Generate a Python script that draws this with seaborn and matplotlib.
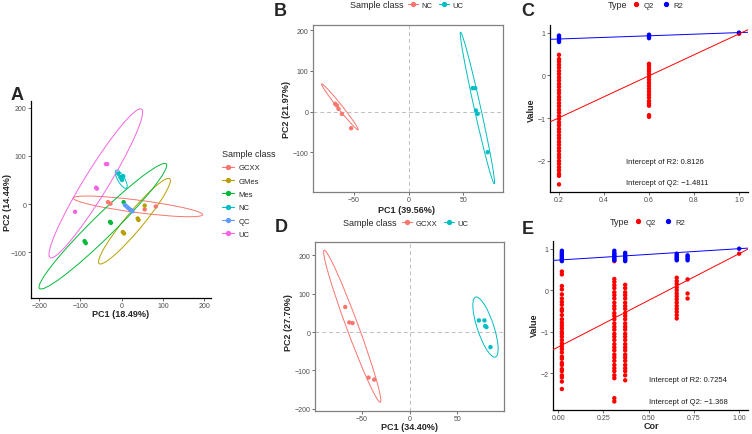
import pandas as pd
import seaborn as sns
import matplotlib.pyplot as plt
from matplotlib.patches import Ellipse
from matplotlib.lines import Line2D

# ============================================
# PCA + permutation test figure (panels A-E)
# ============================================

sns.set_style("white")
plt.rcParams["font.family"] = ["Liberation Sans", "DejaVu Sans"]

W, H = 752, 435

# --- Panel A: PCA, all classes
a_classes = ["GCXX", "GMes", "Mes", "NC", "QC", "UC"]
a_colors = ["#F8766D", "#B79F00", "#00BA38", "#00BFC4", "#619CFF", "#F564E3"]
a_class = ["GCXX"] * 4 + ["GMes"] * 5 + ["Mes"] * 5 + ["NC"] * 5 + ["QC"] * 6 + ["UC"] * 5
a_pc1 = [-33, -27, 56, 83,
         56, 39, 41, 3, 6,
         5, -28, -26, -90, -87,
         -8, -3, 0, 4, 1,
         8, 12, 16, 20, 24, 26,
         -38, -35, -62, -60, -113]
a_pc2 = [4, 1, -11, -5,
         -3, -30, -33, -58, -61,
         4, -37, -39, -77, -81,
         63, 56, 52, 58, 50,
         -2, -5, -8, -11, -13, -15,
         83, 83, 34, 32, -16]
# ellipses: center, semi axes, angle (data units)
a_ell_cx = [39.7, 31.2, -45.5, -1, 17, -62.7]
a_ell_cy = [-4.8, -35.5, -46, 51.5, -8.5, 43]
a_ell_a = [158, 123, 201, 22.6, 13, 190]
a_ell_b = [13, 20, 25, 8, 2.5, 28]
a_ell_ang = [-6.25, 45.6, 39.9, -54.9, -35, 54.1]

# --- Panel B: NC vs UC
b_classes = ["NC", "UC"]
b_class = ["NC"] * 5 + ["UC"] * 5
b_pc1 = [-66.8, -65.3, -63.8, -60.7, -52.3, 58.3, 60.7, 61.4, 62.9, 72.0]
b_pc2 = [19, 15, 6.6, -5.7, -41, 57.6, 57.6, 2.5, -5.7, -100]
b_ell_cx = [-62.5, 62.7]
b_ell_cy = [11.5, 9]
b_ell_a = [58.9, 187.2]
b_ell_b = [2.5, 3]
b_ell_ang = [-73.7, 94.7]

# --- Panel D: GCXX vs UC
d_classes = ["GCXX", "UC"]
d_class = ["GCXX"] * 5 + ["UC"] * 5
d_pc1 = [-67.3, -63.1, -59.7, -42.9, -37.0, 72.7, 78.5, 79.3, 80.6, 84.8]
d_pc2 = [65.4, 25.1, 23.5, -118.8, -124, 30.4, 30.4, 15.7, 13, -39.3]
d_ell_cx = [-60, 79.6]
d_ell_cy = [15.3, 13]
d_ell_a = [200.5, 79.1]
d_ell_b = [6.5, 9]
d_ell_ang = [-81.6, 97.1]

# --- Panel C: permutation test (NC vs UC)
c_cor = [0.2, 0.6, 1.0]
c_q2 = [[0.48, 0.38, 0.32, 0.25, 0.18, 0.1, 0.03, -0.05, -0.12, -0.2, -0.27, -0.35,
         -0.42, -0.5, -0.57, -0.65, -0.72, -0.8, -0.87, -0.95, -1.02, -1.1, -1.17,
         -1.25, -1.32, -1.4, -1.47, -1.55, -1.62, -1.7, -1.77, -1.85, -1.92, -2.0,
         -2.07, -2.15, -2.22, -2.3, -2.35, -2.55],
        [0.27, 0.22, 0.16, 0.1, 0.04, -0.03, -0.1, -0.17, -0.24, -0.31, -0.38, -0.45,
         -0.52, -0.6, -0.66, -0.71, -0.93, -0.97],
        [0.97]]
c_r2 = [[0.78, 0.81, 0.84, 0.87, 0.9, 0.93],
        [0.87, 0.9, 0.93, 0.95],
        [1.0]]
c_r2_int, c_q2_int = 0.8126, -1.4811

# --- Panel E: permutation test (GCXX vs UC)
e_cor = [0.02, 0.31, 0.37, 0.655, 0.715, 1.0]
e_q2 = [[0.45, 0.38, 0.1, 0.02, -0.1, -0.2, -0.28, -0.35, -0.45, -0.5, -0.6, -0.7,
         -0.78, -0.85, -0.92, -1.0, -1.05, -1.12, -1.2, -1.28, -1.35, -1.42, -1.5,
         -1.6, -1.65, -1.75, -1.8, -1.9, -1.95, -2.05, -2.1, -2.2, -2.38],
        [0.7, 0.27, 0.2, 0.12, 0.05, -0.05, -0.12, -0.2, -0.3, -0.38, -0.45, -0.55,
         -0.62, -0.7, -0.8, -0.88, -0.95, -1.05, -1.12, -1.2, -1.3, -1.38, -1.45,
         -1.55, -1.62, -1.7, -1.8, -1.88, -1.95, -2.05, -2.12, -2.6, -2.68],
        [0.13, 0.05, -0.05, -0.12, -0.2, -0.3, -0.38, -0.45, -0.55, -0.62, -0.7, -0.8,
         -0.88, -0.95, -1.05, -1.12, -1.2, -1.3, -1.38, -1.45, -1.55, -1.62, -1.7,
         -1.8, -1.88, -1.95, -2.05, -2.17],
        [0.3, 0.22, 0.15, 0.07, 0.0, -0.08, -0.15, -0.22, -0.3, -0.38, -0.45, -0.52,
         -0.6, -0.68],
        [0.26, -0.08, -0.2],
        [0.88]]
e_r2 = [[0.7, 0.73, 0.76, 0.79, 0.82, 0.85, 0.88, 0.91, 0.95],
        [0.72, 0.75, 0.78, 0.81, 0.84, 0.87, 0.9, 0.95],
        [0.7, 0.73, 0.76, 0.79, 0.82, 0.86, 0.9],
        [0.72, 0.75, 0.78, 0.81, 0.84, 0.88],
        [0.72, 0.76, 0.8, 0.84],
        [1.0]]
e_r2_int, e_q2_int = 0.7254, -1.368

TICK_COL = "#4D4D4D"


def fx(x):
    return x / W


def fy(y):
    return 1 - y / H


def make_ax(left, top, right, bottom):
    return fig.add_axes([fx(left), fy(bottom), (right - left) / W, (bottom - top) / H])


def style_ax(ax, box=False):
    for s in ["left", "bottom", "top", "right"]:
        ax.spines[s].set_visible(box or s in ("left", "bottom"))
        ax.spines[s].set_color("#808080" if box else "black")
        ax.spines[s].set_linewidth(0.9)
    ax.tick_params(axis="both", direction="out", length=2, width=0.5, color="#333333",
                   labelsize=5, labelcolor=TICK_COL, pad=1.2, bottom=True, left=True)
    ax.set_xlabel("")
    ax.set_ylabel("")


def pca_panel(ax, df, classes, colors, cx, cy, ea, eb, eang):
    pal = dict(zip(classes, colors))
    sns.scatterplot(data=df, x="pc1", y="pc2", hue="cls", palette=pal, s=10,
                    linewidth=0, legend=False, ax=ax, zorder=3)
    for i, c in enumerate(classes):
        ax.add_patch(Ellipse((cx[i], cy[i]), 2 * ea[i], 2 * eb[i], angle=eang[i],
                             fill=False, edgecolor=pal[c], lw=0.7, zorder=2))


def perm_df(cor, q2, r2):
    rows = []
    for x, vals in zip(cor, q2):
        rows += [(x, v, "Q2") for v in vals]
    for x, vals in zip(cor, r2):
        rows += [(x, v, "R2") for v in vals]
    return pd.DataFrame(rows, columns=["cor", "value", "type"])


def perm_panel(ax, df, r2_int, q2_int, r2_end, q2_end):
    sns.scatterplot(data=df, x="cor", y="value", hue="type",
                    palette={"Q2": "red", "R2": "blue"}, s=10, linewidth=0,
                    legend=False, ax=ax, zorder=3)
    ax.axline((0, r2_int), (1, r2_end), color="blue", lw=0.7, zorder=4)
    ax.axline((0, q2_int), (1, q2_end), color="red", lw=0.7, zorder=4)


fig = plt.figure(figsize=(W / 100, H / 100), dpi=100)

# ---------------- A
ax_a = make_ax(31, 102, 211, 299)
df_a = pd.DataFrame({"pc1": a_pc1, "pc2": a_pc2, "cls": a_class})
pca_panel(ax_a, df_a, a_classes, a_colors, a_ell_cx, a_ell_cy, a_ell_a, a_ell_b, a_ell_ang)
ax_a.set_xlim(-220, 217)
ax_a.set_ylim(-195, 214)
ax_a.set_xticks([-200, -100, 0, 100, 200])
ax_a.set_yticks([-100, 0, 100, 200])
style_ax(ax_a)

# ---------------- B
ax_b = make_ax(313, 26, 503, 193)
df_b = pd.DataFrame({"pc1": b_pc1, "pc2": b_pc2, "cls": b_class})
ax_b.axhline(0, color="#BEBEBE", lw=0.7, ls=(0, (4, 3)), zorder=1)
ax_b.axvline(0, color="#BEBEBE", lw=0.7, ls=(0, (4, 3)), zorder=1)
pca_panel(ax_b, df_b, b_classes, [a_colors[0], a_colors[3]],
          b_ell_cx, b_ell_cy, b_ell_a, b_ell_b, b_ell_ang)
ax_b.set_xlim(-87, 86)
ax_b.set_ylim(-198, 213)
ax_b.set_xticks([-50, 0, 50])
ax_b.set_yticks([-100, 0, 100, 200])
style_ax(ax_b, box=True)

# ---------------- D
ax_d = make_ax(315, 243, 504, 412)
df_d = pd.DataFrame({"pc1": d_pc1, "pc2": d_pc2, "cls": d_class})
ax_d.axhline(0, color="#BEBEBE", lw=0.7, ls=(0, (4, 3)), zorder=1)
ax_d.axvline(0, color="#BEBEBE", lw=0.7, ls=(0, (4, 3)), zorder=1)
pca_panel(ax_d, df_d, d_classes, [a_colors[0], a_colors[3]],
          d_ell_cx, d_ell_cy, d_ell_a, d_ell_b, d_ell_ang)
ax_d.set_xlim(-99, 99)
ax_d.set_ylim(-206, 235)
ax_d.set_xticks([-50, 0, 50])
ax_d.set_yticks([-200, -100, 0, 100, 200])
style_ax(ax_d, box=True)

# ---------------- C
ax_c = make_ax(550, 26, 748, 193)
perm_panel(ax_c, perm_df(c_cor, c_q2, c_r2), c_r2_int, c_q2_int, c_r2[-1][0], c_q2[-1][0])
ax_c.set_xlim(0.16, 1.04)
ax_c.set_ylim(-2.7275, 1.1775)
ax_c.set_xticks([0.2, 0.4, 0.6, 0.8, 1.0])
ax_c.set_yticks([-2, -1, 0, 1])
style_ax(ax_c)
ax_c.text(0.5, -2.02, f"Intercept of R2: {c_r2_int}", fontsize=5.5, va="center", color="#1a1a1a")
ax_c.text(0.5, -2.51, f"Intercept of Q2: \u2212{abs(c_q2_int)}", fontsize=5.5, va="center", color="#1a1a1a")

# ---------------- E
ax_e = make_ax(553, 242, 748, 411)
perm_panel(ax_e, perm_df(e_cor, e_q2, e_r2), e_r2_int, e_q2_int, e_r2[-1][0], e_q2[-1][0])
ax_e.set_xlim(-0.029, 1.049)
ax_e.set_ylim(-2.885, 1.185)
ax_e.set_xticks([0, 0.25, 0.5, 0.75, 1.0])
ax_e.set_xticklabels(["0.00", "0.25", "0.50", "0.75", "1.00"])
ax_e.set_yticks([-2, -1, 0, 1])
style_ax(ax_e)
ax_e.text(0.5, -2.14, f"Intercept of R2: {e_r2_int}", fontsize=5.5, va="center", color="#1a1a1a")
ax_e.text(0.5, -2.69, f"Intercept of Q2: \u2212{abs(e_q2_int)}", fontsize=5.5, va="center", color="#1a1a1a")

# ---------------- axis titles
lab = dict(fontsize=6.5, fontweight="bold", ha="center", va="center")
fig.text(fx(121), fy(315), "PC1 (18.49%)", **lab)
fig.text(fx(7.5), fy(203), "PC2 (14.44%)", rotation=90, **lab)
fig.text(fx(407), fy(210.5), "PC1 (39.56%)", **lab)
fig.text(fx(286.5), fy(110), "PC2 (21.97%)", rotation=90, **lab)
fig.text(fx(531.5), fy(110), "Value", rotation=90, **lab)
fig.text(fx(409), fy(428), "PC1 (34.40%)", **lab)
fig.text(fx(288.5), fy(323), "PC2 (27.70%)", rotation=90, **lab)
fig.text(fx(651), fy(427), "Cor", **lab)
fig.text(fx(534), fy(325), "Value", rotation=90, **lab)

# ---------------- panel letters
let = dict(fontsize=13, fontweight="bold", ha="center", va="center")
fig.text(fx(17), fy(95), "A", **let)
fig.text(fx(280), fy(12), "B", **let)
fig.text(fx(528), fy(11), "C", **let)
fig.text(fx(281), fy(228), "D", **let)
fig.text(fx(528), fy(230), "E", **let)

# ---------------- legends
def key(c, line=True):
    return Line2D([0], [0], color=c, marker="o", markersize=2.8, lw=0.8 if line else 0,
                  linestyle="-" if line else "none")


leg_kw = dict(frameon=False, borderpad=0, borderaxespad=0, fontsize=5.5)
fig.legend([key(c) for c in a_colors], a_classes, title="Sample class", loc="upper left",
           bbox_to_anchor=(fx(222), fy(150)), title_fontsize=6.5, alignment="left",
           handlelength=1.6, handletextpad=0.6, labelspacing=0.78, **leg_kw)

for y, labels in [(6, b_classes), (224, d_classes)]:
    fig.text(fx(350 if y == 6 else 343), fy(y), "Sample class", fontsize=6.5, ha="left", va="center")
    fig.legend([key(a_colors[0]), key(a_colors[3])], labels, ncol=2, loc="center left",
               bbox_to_anchor=(fx(408 if y == 6 else 402), fy(y)), handlelength=1.3,
               handletextpad=0.5, columnspacing=0.8, **leg_kw)

for y, x in [(6, 608), (223, 610)]:
    fig.text(fx(x), fy(y), "Type", fontsize=6.5, ha="left", va="center")
    fig.legend([key("red", False), key("blue", False)], ["Q2", "R2"], ncol=2, loc="center left",
               bbox_to_anchor=(fx(x + 25), fy(y)), handlelength=0.8, handletextpad=0.6,
               columnspacing=1.2, **leg_kw)

fig.savefig("out.png", dpi=100)
